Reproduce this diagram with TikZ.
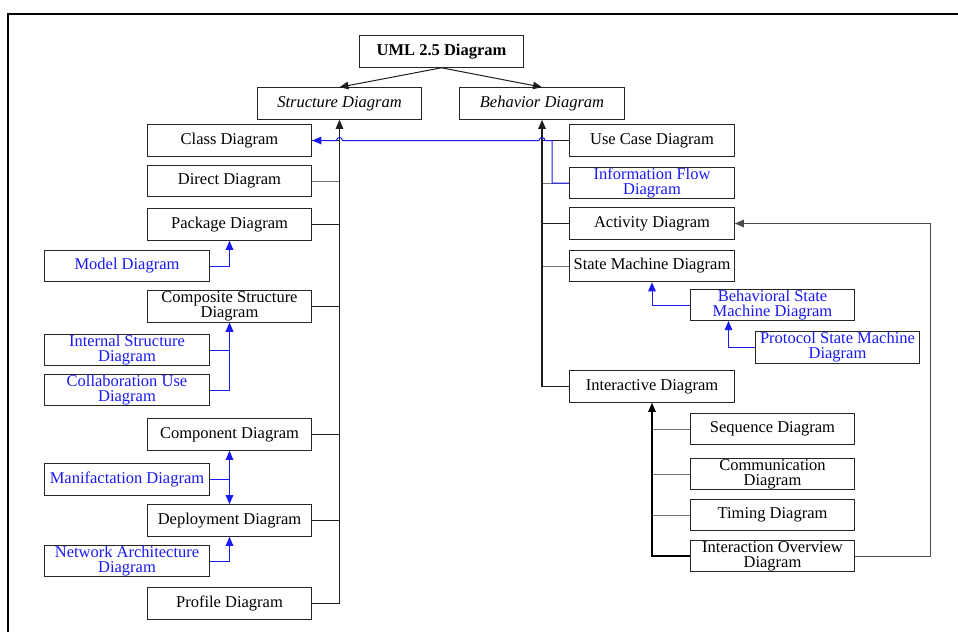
\documentclass[tikz,border=0pt]{standalone}
\usepackage{fontspec}
\setmainfont{Liberation Serif}
\usetikzlibrary{arrows.meta}
\definecolor{myblue}{RGB}{25,25,245}
\definecolor{lnk}{RGB}{30,30,30}
\begin{document}
\begin{tikzpicture}[x=1pt,y=-1pt,
  box/.style={draw=black!85, line width=1.1pt, minimum width=164.5pt, minimum height=31.5pt,
    inner sep=0pt, align=center, font=\fontsize{16.5}{15}\selectfont},
  bbox/.style={box, text=myblue},
  con/.style={draw=lnk, line width=1pt},
  gcon/.style={draw=black!55, line width=1pt},
  arr/.style={con, -{Triangle[length=9pt,width=7.5pt]}},
  barr/.style={draw=myblue, line width=1pt, -{Triangle[length=9pt,width=7.5pt]}},
  frame/.style={draw=black, line width=1.6pt}]
\useasboundingbox (0,0) rectangle (958,632);
% partial frame
\coordinate (f1) at (8,632);
\coordinate (f2) at (8,14);
\coordinate (f3) at (958,14);
\draw[frame] (f1) -- (f2) -- (f3);

% top
\node[box, font=\fontsize{16.5}{15}\selectfont\bfseries] (uml) at (441.5,51.5) {UML 2.5 Diagram};
\node[box, font=\fontsize{16.5}{15}\selectfont\itshape] (struct) at (339.5,103.5) {Structure Diagram};
\node[box, font=\fontsize{16.5}{15}\selectfont\itshape] (behav) at (542,103.5) {Behavior Diagram};

% structure column
\node[box] (class) at (229.5,140.5) {Class Diagram};
\node[box] (direct) at (229.5,181) {Direct Diagram};
\node[box] (package) at (229.5,224.5) {Package Diagram};
\node[bbox] (model) at (127,266) {Model Diagram};
\node[box] (composite) at (229.5,306.5) {Composite Structure\\Diagram};
\node[bbox] (internal) at (127,350) {Internal Structure\\Diagram};
\node[bbox] (collab) at (127,390) {Collaboration Use\\Diagram};
\node[box] (component) at (229.5,434.5) {Component Diagram};
\node[bbox] (manif) at (127,479.5) {Manifactation Diagram};
\node[box] (deploy) at (229.5,520.5) {Deployment Diagram};
\node[bbox] (network) at (127,561) {Network Architecture\\Diagram};
\node[box] (profile) at (229.5,603.5) {Profile Diagram};

% behavior column
\node[box] (usecase) at (652,140.5) {Use Case Diagram};
\node[bbox] (infoflow) at (652,183) {Information Flow\\Diagram};
\node[box] (activity) at (652,223.5) {Activity Diagram};
\node[box] (statemachine) at (652,266) {State Machine Diagram};
\node[bbox] (behavioral) at (772.5,305) {Behavioral State\\Machine Diagram};
\node[bbox] (protocol) at (837.5,347.5) {Protocol State Machine\\Diagram};
\node[box] (interactive) at (652,386.5) {Interactive Diagram};
\node[box] (sequence) at (772.5,429) {Sequence Diagram};
\node[box] (communication) at (772.5,474) {Communication\\Diagram};
\node[box] (timing) at (772.5,515) {Timing Diagram};
\node[box] (overview) at (772.5,556) {Interaction Overview\\Diagram};

% top arrows
\draw[arr] (uml.south) -- (struct.north);
\draw[arr] (uml.south) -- (behav.north);

% structure trunk and branches
\draw[con] (class.east) -- (class.east -| struct.south);
\draw[gcon] (direct.east) -- (direct.east -| struct.south);
\draw[con] (package.east) -- (package.east -| struct.south);
\draw[con] (composite.east) -- (composite.east -| struct.south);
\draw[con] (component.east) -- (component.east -| struct.south);
\draw[con] (deploy.east) -- (deploy.east -| struct.south);
\draw[arr, line width=1.2pt] (profile.east) -| (struct.south);

% blue sub-relations (structure)
\draw[barr] (model.east) -| (package.south);
\draw[barr] (internal.east) -| (composite.south);
\draw[barr] (collab.east) -| (composite.south);
\draw[draw=myblue, line width=1pt] (manif.east) -- (manif.east -| component.south);
\draw[draw=myblue, line width=1pt, {Triangle[length=9pt,width=7.5pt]}-{Triangle[length=9pt,width=7.5pt]}] (component.south) -- (deploy.north);
\draw[barr] (network.east) -| (deploy.south);

% behavior trunk and branches
\draw[con] (usecase.west) -- (usecase.west -| behav.south);
\draw[gcon] (infoflow.west) -- (infoflow.west -| behav.south);
\draw[con] (activity.west) -- (activity.west -| behav.south);
\draw[gcon] (statemachine.west) -- (statemachine.west -| behav.south);
\draw[arr, line width=1.2pt] (interactive.west) -| (behav.south);

% blue information flow link with hops
\coordinate (bj) at (552,140.5);
\coordinate (hopA) at (545,140.5);
\coordinate (hopB) at (342.5,140.5);
\draw[barr] (infoflow.west) -| (bj) -- (hopA) arc[start angle=0, end angle=-180, radius=3]
  -- (hopB) arc[start angle=0, end angle=-180, radius=3] -- (class.east);

% state machine sub-relations
\coordinate (bsm) at (728.5,321);
\draw[barr] (behavioral.west) -| (statemachine.south);
\draw[barr] (protocol.west) -| (bsm);

% interactive sub tree
\draw[gcon] (sequence.west) -- (sequence.west -| interactive.south);
\draw[gcon] (communication.west) -- (communication.west -| interactive.south);
\draw[gcon] (timing.west) -- (timing.west -| interactive.south);
\draw[arr, line width=1.2pt, draw=black] (overview.west) -| (interactive.south);

% loop back to activity
\coordinate (loop) at (930.5,400);
\draw[arr, draw=black!70] (overview.east) -| (loop) |- (activity.east);
\end{tikzpicture}
\end{document}
